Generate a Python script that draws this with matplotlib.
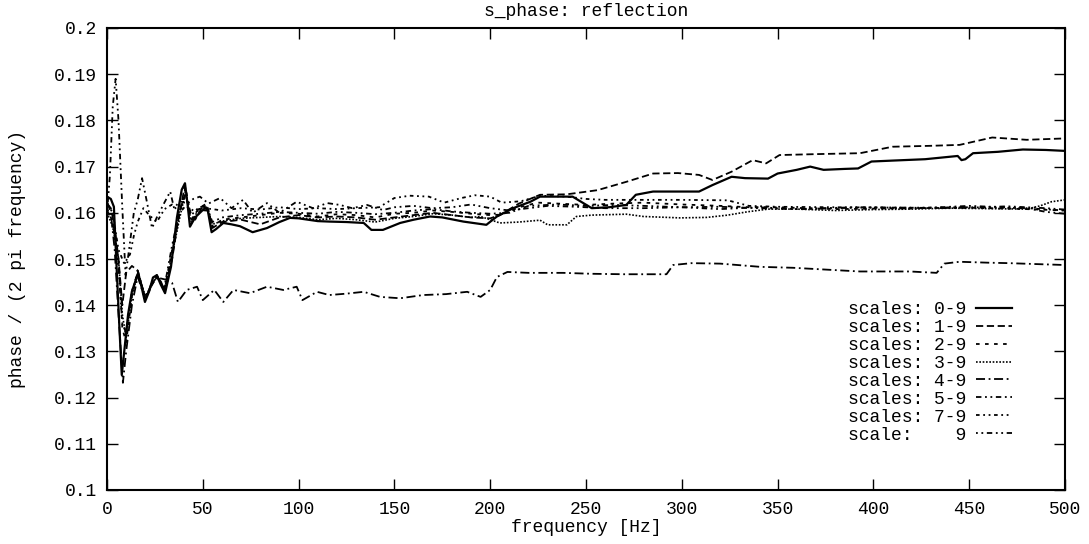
import matplotlib
matplotlib.use("Agg")
import matplotlib.pyplot as plt

# ---------------- data ----------------
f0 = [0, 2, 3.6, 5, 6.5, 7.7, 9, 11, 13, 16.3, 18, 19.8, 22, 24, 26, 28, 30.3, 33.4, 36.5, 39, 40.7, 42, 43.3, 46, 50,
      52.6, 54.6, 57, 60.7, 65, 69.4, 76, 83.5, 90, 95.5, 100, 105, 110, 116, 125, 134, 138, 144, 153, 160, 168.6, 175,
      186, 198, 203.5, 212, 221, 226, 235, 243, 253, 262, 271, 276, 285, 300, 309, 316, 326, 333, 345, 350, 360, 367,
      374, 385, 392, 399, 410, 427, 444, 446, 448, 452, 465, 478, 490, 500]
v0 = [0.1635, 0.163, 0.1613, 0.1483, 0.135, 0.1249, 0.130, 0.138, 0.143, 0.147, 0.144, 0.1407, 0.143, 0.146, 0.1465,
      0.1445, 0.1426, 0.1483, 0.159, 0.165, 0.1664, 0.162, 0.157, 0.159, 0.1606, 0.1605, 0.1558, 0.1565, 0.1578, 0.1575,
      0.1571, 0.1558, 0.1567, 0.1580, 0.1589, 0.1588, 0.1585, 0.1582, 0.1581, 0.158, 0.1578, 0.1563, 0.1563, 0.1578,
      0.1585, 0.1592, 0.159, 0.1581, 0.1574, 0.1592, 0.161, 0.1624, 0.1635, 0.1635, 0.1635, 0.1610, 0.1612, 0.1617,
      0.1639, 0.1646, 0.1646, 0.1646, 0.1660, 0.1678, 0.1675, 0.1674, 0.1685, 0.1693, 0.1700, 0.1693, 0.1695, 0.1696,
      0.1711, 0.1713, 0.1716, 0.1723, 0.1714, 0.1716, 0.1729, 0.1732, 0.1737, 0.1736, 0.1734]

f1 = [0, 2, 4, 6, 8, 10, 13, 16, 20, 26, 30, 34, 37, 40.5, 43, 46, 50, 53, 55, 60, 70, 80, 90, 100, 110, 120, 130, 140,
      150, 160, 170, 180, 190, 200, 205, 215, 226, 240, 256, 271, 285, 298, 309, 316, 326, 337, 344, 351, 370, 393, 410,
      430, 445, 462, 480, 500]
v1 = [0.162, 0.161, 0.157, 0.150, 0.140, 0.147, 0.1485, 0.1475, 0.1415, 0.1465, 0.1435, 0.150, 0.158, 0.1655, 0.160,
      0.1585, 0.1615, 0.1605, 0.1567, 0.158, 0.1585, 0.1575, 0.159, 0.1595, 0.159, 0.1592, 0.159, 0.1585, 0.159, 0.1595,
      0.160, 0.1595, 0.159, 0.1588, 0.1595, 0.162, 0.1639, 0.164, 0.1649, 0.1667, 0.1685, 0.1686, 0.1682, 0.1671, 0.1689,
      0.1714, 0.1707, 0.1725, 0.1727, 0.1729, 0.1743, 0.1745, 0.1747, 0.1763, 0.1758, 0.1761]

f2 = [0, 3, 6, 8, 10, 13, 16, 20, 26, 30, 34, 38, 41, 44, 48, 52, 55, 60, 70, 80, 90, 100, 110, 120, 130, 140, 150, 160,
      170, 180, 190, 200, 206, 215, 225, 235, 250, 265, 280, 300, 320, 335, 350, 380, 420, 450, 480, 500]
v2 = [0.161, 0.158, 0.150, 0.135, 0.132, 0.142, 0.1475, 0.1415, 0.1465, 0.1435, 0.152, 0.160, 0.1655, 0.1585, 0.161,
      0.162, 0.157, 0.1585, 0.159, 0.1595, 0.160, 0.1598, 0.1592, 0.1597, 0.1595, 0.159, 0.1598, 0.160, 0.1605, 0.1602,
      0.1598, 0.1595, 0.1596, 0.1612, 0.1622, 0.162, 0.1617, 0.162, 0.1622, 0.1618, 0.1615, 0.1612, 0.1612, 0.1608,
      0.161, 0.1611, 0.1608, 0.1605]

f3 = [0, 3, 6, 8, 10, 13, 16, 20, 26, 30, 34, 38, 41, 44, 48, 52, 55, 60, 70, 80, 90, 100, 110, 120, 130, 140, 150, 160,
      170, 180, 190, 195, 205, 215, 226, 230, 240, 245, 253, 271, 280, 299, 313, 324, 334, 345, 360, 380, 400, 420, 440,
      460, 480, 487, 493, 500]
v3 = [0.16, 0.157, 0.150, 0.138, 0.133, 0.142, 0.1468, 0.142, 0.1462, 0.1432, 0.151, 0.159, 0.1645, 0.158, 0.1608,
      0.1612, 0.1575, 0.1582, 0.1588, 0.159, 0.1592, 0.159, 0.1585, 0.1588, 0.1585, 0.158, 0.1588, 0.1592, 0.1598,
      0.1595, 0.159, 0.1592, 0.1578, 0.158, 0.1584, 0.1574, 0.1574, 0.1592, 0.1595, 0.1597, 0.1592, 0.1589, 0.159,
      0.1595, 0.1602, 0.1608, 0.1608, 0.1605, 0.1607, 0.1608, 0.161, 0.1609, 0.1608, 0.1615, 0.1624, 0.1628]

f4 = [0, 2, 4, 6, 8.3, 10, 13, 16, 20, 23, 26, 31, 34, 37, 41.6, 47, 50, 56, 60.7, 66, 74.6, 83.5, 92, 99, 102, 109.6,
      116, 125, 134, 142.5, 153, 165, 177, 188, 195, 200, 203.5, 209, 220, 238, 253, 270, 292, 295.5, 305, 320, 341,
      358, 393, 419, 433, 437, 445, 460, 471, 485, 500]
v4 = [0.1625, 0.160, 0.152, 0.138, 0.1232, 0.130, 0.140, 0.1462, 0.1412, 0.1445, 0.146, 0.1455, 0.1448, 0.1407, 0.1433,
      0.144, 0.1411, 0.1433, 0.1407, 0.1433, 0.1426, 0.144, 0.1433, 0.144, 0.1411, 0.1429, 0.1422, 0.1425, 0.1429,
      0.1418, 0.1415, 0.1422, 0.1424, 0.1429, 0.1418, 0.1433, 0.1461, 0.1472, 0.147, 0.147, 0.1468, 0.1467, 0.1467,
      0.1487, 0.1491, 0.149, 0.1483, 0.1481, 0.1473, 0.1473, 0.147, 0.149, 0.1494, 0.1492, 0.1491, 0.1489, 0.1487]

f5 = [0, 3, 6, 8, 10, 13, 16, 20, 26, 30, 34, 38, 41, 44, 48, 52, 55, 60, 70, 80, 90, 100, 110, 120, 130, 140, 150, 160,
      170, 180, 190, 200, 210, 220, 235, 250, 265, 280, 300, 320, 340, 360, 390, 420, 450, 480, 490, 500]
v5 = [0.1605, 0.158, 0.148, 0.136, 0.134, 0.143, 0.147, 0.1418, 0.1463, 0.144, 0.153, 0.1605, 0.164, 0.1595, 0.1612,
      0.1615, 0.158, 0.159, 0.1595, 0.1598, 0.1602, 0.160, 0.1598, 0.1602, 0.160, 0.1597, 0.160, 0.1605, 0.1608, 0.1603,
      0.160, 0.1598, 0.160, 0.1615, 0.1618, 0.1615, 0.1617, 0.1615, 0.1612, 0.1613, 0.161, 0.1608, 0.1612, 0.1609,
      0.1615, 0.161, 0.1602, 0.1598]

f6 = [0, 3, 6, 9, 12, 14, 16, 19, 22, 26, 30, 34, 38, 41, 45, 50, 55, 60, 70, 80, 90, 100, 110, 120, 130, 142, 150, 158,
      168, 176, 185, 192, 200, 206, 216, 226, 240, 250, 260, 280, 300, 324, 335, 350, 380, 420, 450, 480, 500]
v6 = [0.162, 0.16, 0.152, 0.149, 0.151, 0.155, 0.158, 0.161, 0.1595, 0.158, 0.1608, 0.1618, 0.160, 0.1615, 0.1605,
      0.161, 0.1608, 0.1605, 0.161, 0.1607, 0.1612, 0.1608, 0.161, 0.1608, 0.161, 0.1612, 0.1632, 0.1637, 0.1635,
      0.1622, 0.1632, 0.1638, 0.1635, 0.1622, 0.1625, 0.1637, 0.1635, 0.163, 0.1628, 0.1628, 0.1628, 0.1627, 0.1615,
      0.1613, 0.1612, 0.1611, 0.1612, 0.161, 0.1605]

f7 = [0, 1.5, 3, 4.5, 6, 8, 9.7, 11.5, 14, 16, 18.3, 21, 23.5, 26, 29.7, 33, 35, 38, 42, 45, 48.5, 53, 59, 65, 71, 76,
      83.5, 90, 99, 107.5, 115, 121.6, 128, 135.7, 144, 150, 160, 170, 180, 190, 200, 210, 220, 230, 245, 260, 280, 300,
      320, 340, 360, 400, 440, 470, 490, 500]
v7 = [0.16, 0.168, 0.183, 0.189, 0.180, 0.161, 0.1465, 0.152, 0.160, 0.1628, 0.1675, 0.162, 0.1567, 0.159, 0.162,
      0.1646, 0.161, 0.1625, 0.162, 0.163, 0.1635, 0.162, 0.1632, 0.161, 0.1628, 0.160, 0.1621, 0.160, 0.1624, 0.161,
      0.1621, 0.1617, 0.161, 0.1617, 0.1606, 0.1612, 0.1615, 0.161, 0.1612, 0.1618, 0.161, 0.1605, 0.161, 0.1615,
      0.1613, 0.161, 0.161, 0.1612, 0.1608, 0.1612, 0.1608, 0.1612, 0.161, 0.1614, 0.161, 0.1607]

labels = ["scales: 0-9", "scales: 1-9", "scales: 2-9", "scales: 3-9",
          "scales: 4-9", "scales: 5-9", "scales: 7-9", "scale:    9"]
xticks = [0, 50, 100, 150, 200, 250, 300, 350, 400, 450, 500]
yticks = [0.1, 0.11, 0.12, 0.13, 0.14, 0.15, 0.16, 0.17, 0.18, 0.19, 0.2]
ytick_labels = ["0.1", "0.11", "0.12", "0.13", "0.14", "0.15", "0.16", "0.17", "0.18", "0.19", "0.2"]

# ---------------- styling ----------------
FONT = "Liberation Mono"
plt.rcParams["font.family"] = [FONT, "DejaVu Sans Mono"]
FS = 13

styles = [
    dict(ls="-", lw=1.6),
    dict(ls=(0, (4, 2)), lw=1.3),
    dict(ls=(0, (2, 3)), lw=1.3),
    dict(ls=(0, (1, 1)), lw=1.2),
    dict(ls=(0, (5, 2, 1, 2)), lw=1.3),
    dict(ls=(0, (3, 2, 1, 2, 1, 2)), lw=1.3),
    dict(ls=(0, (2, 2, 1, 2, 1, 2)), lw=1.3),
    dict(ls=(0, (1, 2, 1, 2, 3, 2)), lw=1.3),
]

fig = plt.figure(figsize=(10.89, 5.44), dpi=100)
ax = fig.add_axes([107 / 1089, 1 - 490 / 544, (1065 - 107) / 1089, (490 - 28) / 544])

series = [(f0, v0), (f1, v1), (f2, v2), (f3, v3), (f4, v4), (f5, v5), (f6, v6), (f7, v7)]
for (fx, vy), lab, st in zip(series, labels, styles):
    ax.plot(fx, vy, color="black", label=lab, **st)

ax.set_xlim(0, 500)
ax.set_ylim(0.1, 0.2)
ax.set_xticks(xticks)
ax.set_xticklabels([str(t) for t in xticks])
ax.set_yticks(yticks)
ax.set_yticklabels(ytick_labels)
ax.tick_params(direction="in", length=8, width=1.0, top=True, right=True,
               labelsize=FS, colors="black")
ax.tick_params(axis="x", pad=8)
ax.tick_params(axis="y", pad=7)
for sp in ax.spines.values():
    sp.set_linewidth(1.5)

ax.set_title("s_phase: reflection", fontsize=FS, pad=9)
ax.set_xlabel("frequency [Hz]", fontsize=FS, labelpad=1)
ax.set_ylabel("phase / (2 pi frequency)", fontsize=FS, labelpad=20)

leg = ax.legend(loc="lower right", bbox_to_anchor=(0.952, 0.085), frameon=False,
                markerfirst=False, fontsize=FS, handlelength=2.0, handletextpad=0.55,
                labelspacing=0.05, borderaxespad=0.0)

fig.savefig("out.png", dpi=100)
